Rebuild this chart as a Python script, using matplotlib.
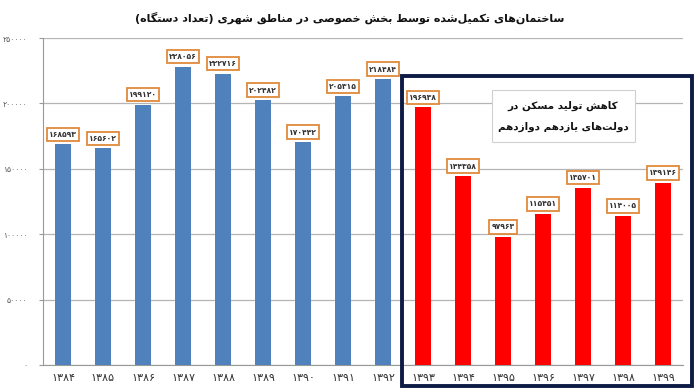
import matplotlib
matplotlib.use('Agg')
import matplotlib.pyplot as plt
from matplotlib.patches import Rectangle

years = ['1384', '1385', '1386', '1387', '1388', '1389', '1390', '1391', '1392',
         '1393', '1394', '1395', '1396', '1397', '1398', '1399']
values = [168593, 165602, 199120, 228056, 222716, 202482, 170442, 205315, 218484,
          196938, 144358, 97963, 115451, 135701, 114005, 139146]
n_blue = 9  # 1384-1392 blue, 1393-1399 red
yticks = [0, 50000, 100000, 150000, 200000, 250000]

title = 'ساختمان\u200cهای تکمیل\u200cشده توسط بخش خصوصی در مناطق شهری (تعداد دستگاه)'
note = ['کاهش تولید مسکن در', 'دولت\u200cهای یازدهم دوازدهم']

FA = str.maketrans('0123456789', '۰۱۲۳۴۵۶۷۸۹')

# presentation forms: isolated, final, initial, medial (None = no left join)
FORMS = {
    'ا': (0xFE8D, 0xFE8E, None, None), 'آ': (0xFE81, 0xFE82, None, None),
    'ب': (0xFE8F, 0xFE90, 0xFE91, 0xFE92), 'ت': (0xFE95, 0xFE96, 0xFE97, 0xFE98),
    'ث': (0xFE99, 0xFE9A, 0xFE9B, 0xFE9C), 'ج': (0xFE9D, 0xFE9E, 0xFE9F, 0xFEA0),
    'ح': (0xFEA1, 0xFEA2, 0xFEA3, 0xFEA4), 'خ': (0xFEA5, 0xFEA6, 0xFEA7, 0xFEA8),
    'د': (0xFEA9, 0xFEAA, None, None), 'ذ': (0xFEAB, 0xFEAC, None, None),
    'ر': (0xFEAD, 0xFEAE, None, None), 'ز': (0xFEAF, 0xFEB0, None, None),
    'س': (0xFEB1, 0xFEB2, 0xFEB3, 0xFEB4), 'ش': (0xFEB5, 0xFEB6, 0xFEB7, 0xFEB8),
    'ص': (0xFEB9, 0xFEBA, 0xFEBB, 0xFEBC), 'ض': (0xFEBD, 0xFEBE, 0xFEBF, 0xFEC0),
    'ط': (0xFEC1, 0xFEC2, 0xFEC3, 0xFEC4), 'ظ': (0xFEC5, 0xFEC6, 0xFEC7, 0xFEC8),
    'ع': (0xFEC9, 0xFECA, 0xFECB, 0xFECC), 'غ': (0xFECD, 0xFECE, 0xFECF, 0xFED0),
    'ف': (0xFED1, 0xFED2, 0xFED3, 0xFED4), 'ق': (0xFED5, 0xFED6, 0xFED7, 0xFED8),
    'ل': (0xFEDD, 0xFEDE, 0xFEDF, 0xFEE0), 'م': (0xFEE1, 0xFEE2, 0xFEE3, 0xFEE4),
    'ن': (0xFEE5, 0xFEE6, 0xFEE7, 0xFEE8), 'ه': (0xFEE9, 0xFEEA, 0xFEEB, 0xFEEC),
    'و': (0xFEED, 0xFEEE, None, None), 'پ': (0xFB56, 0xFB57, 0xFB58, 0xFB59),
    'چ': (0xFB7A, 0xFB7B, 0xFB7C, 0xFB7D), 'ژ': (0xFB8A, 0xFB8B, None, None),
    'ک': (0xFB8E, 0xFB8F, 0xFB90, 0xFB91), 'گ': (0xFB92, 0xFB93, 0xFB94, 0xFB95),
    'ی': (0xFBFC, 0xFBFD, 0xFBFE, 0xFBFF),
}


def rtl(text):
    # crude arabic shaping + visual reordering (matplotlib has no bidi)
    out = []
    for i, c in enumerate(text):
        if c not in FORMS:
            out.append(c)
            continue
        prev = text[i - 1] if i > 0 else ''
        nxt = text[i + 1] if i + 1 < len(text) else ''
        jp = prev in FORMS and FORMS[prev][2] is not None
        jn = nxt in FORMS and FORMS[c][2] is not None
        iso, fin, ini, med = FORMS[c]
        if jp and jn:
            out.append(chr(med))
        elif jp:
            out.append(chr(fin))
        elif jn:
            out.append(chr(ini))
        else:
            out.append(chr(iso))
    s = ''.join(ch for ch in out if ch != '\u200c')[::-1]
    return s.translate(str.maketrans('()', ')('))


plt.rcParams['font.family'] = ['DejaVu Sans']

fig = plt.figure(figsize=(7, 3.89), dpi=100)
ax = fig.add_axes([43 / 700, 24 / 389, 640 / 700, 327 / 389])

x = list(range(len(years)))
colors = ['#4f81bd'] * n_blue + ['#ff0000'] * (len(years) - n_blue)
ax.bar(x, values, width=0.4, color=colors, zorder=3)

for xi, v in zip(x, values):
    ax.annotate(str(v).translate(FA), (xi, v), xytext=(0, 4), textcoords='offset points',
                ha='center', va='bottom', fontsize=5.5, fontweight='bold', color='#333333',
                bbox=dict(boxstyle='square,pad=0.3', fc='white', ec='#e08a3c', lw=1.3),
                zorder=5)

ax.set_xlim(-0.5, len(years) - 0.5)
ax.set_ylim(0, 250000)
ax.set_yticks(yticks)
ax.set_yticklabels([str(t).translate(FA) for t in yticks], fontsize=5.5, color='#555555')
ax.set_xticks(x)
ax.set_xticklabels([y.translate(FA) for y in years], fontsize=8, color='#333333')
ax.tick_params(axis='x', length=0, pad=6)
ax.tick_params(axis='y', length=3, color='#999999', pad=8)
ax.grid(axis='y', color='#b5b5b5', lw=0.9, zorder=0)
for s in ['top', 'right']:
    ax.spines[s].set_visible(False)
for s in ['left', 'bottom']:
    ax.spines[s].set_color('#999999')

fig.text(0.5, 0.953, rtl(title), ha='center', va='center', fontsize=8,
         fontweight='bold', color='#111111')

# navy frame around the 11th/12th government years
fig.patches.append(Rectangle((402 / 700, 3 / 389), 290 / 700, 310 / 389,
                             transform=fig.transFigure, fill=False,
                             ec='#0d1b45', lw=2.8, zorder=6))

# note box
fig.patches.append(Rectangle((492 / 700, 247 / 389), 143 / 700, 52 / 389,
                             transform=fig.transFigure, fc='white',
                             ec='#d0d0d0', lw=0.8, zorder=6))
fig.text(563 / 700, 283 / 389, rtl(note[0]), ha='center', va='center', fontsize=7.5,
         fontweight='bold', color='#111111', zorder=7)
fig.text(563 / 700, 262 / 389, rtl(note[1]), ha='center', va='center', fontsize=7.5,
         fontweight='bold', color='#111111', zorder=7)

fig.savefig('out.png', dpi=100)
